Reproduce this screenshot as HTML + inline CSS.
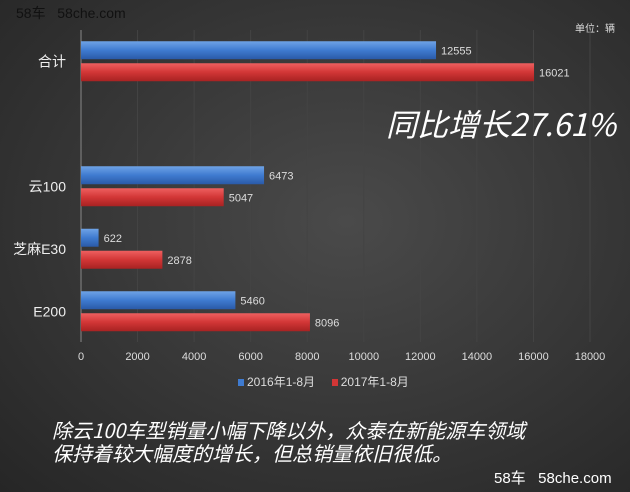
<!DOCTYPE html>
<html><head><meta charset="utf-8"><style>
body{margin:0;width:630px;height:492px;overflow:hidden;background:radial-gradient(ellipse at 55% 45%,#4a4a4a 0%,#363636 55%,#262626 100%);font-family:"Liberation Sans","Noto Sans CJK SC",sans-serif;color:#fff;position:relative}
.t{position:absolute;white-space:nowrap}
</style></head><body>
<div class="t" style="left:16px;top:3px;font-size:14px;color:#111">58车&nbsp;&nbsp; 58che.com</div>
<div class="t" style="left:575px;top:20px;font-size:10px;color:#ddd">单位：辆</div>
<svg id="c" width="630" height="492" style="position:absolute;left:0;top:0">
<defs>
<linearGradient id="gb" x1="0" y1="0" x2="0" y2="1"><stop offset="0" stop-color="#6fa3e6"/><stop offset="0.5" stop-color="#3f7bd0"/><stop offset="1" stop-color="#2a5aa8"/></linearGradient>
<linearGradient id="gr" x1="0" y1="0" x2="0" y2="1"><stop offset="0" stop-color="#ee6060"/><stop offset="0.5" stop-color="#d23636"/><stop offset="1" stop-color="#a82222"/></linearGradient>
</defs>
</svg>
<div class="t" style="left:386px;top:100px;font-size:31px;font-style:italic;font-family:'Noto Sans CJK SC',sans-serif">同比增长27.61%</div>
<div class="t" style="left:238px;top:373px;font-size:12px;color:#ddd"><span style="display:inline-block;width:6px;height:7px;background:#3f7bd0;margin-right:3px"></span>2016年1-8月&nbsp;&nbsp;&nbsp;&nbsp;&nbsp;<span style="display:inline-block;width:6px;height:7px;background:#d23636;margin-right:3px"></span>2017年1-8月</div>
<div class="t" style="left:52px;top:418px;font-size:20px;line-height:23px;font-style:italic;font-family:'Noto Sans CJK SC',sans-serif">除云100车型销量小幅下降以外，众泰在新能源车领域<br>保持着较大幅度的增长，但总销量依旧很低。</div>
<div class="t" style="left:494px;top:467px;font-size:15px;color:#fff">58车&nbsp;&nbsp; 58che.com</div>
<script>
const categories=["合计","","云100","芝麻E30","E200"];
const s2016=[12555,null,6473,622,5460];
const s2017=[16021,null,5047,2878,8096];
const ticks=[0,2000,4000,6000,8000,10000,12000,14000,16000,18000];
const svg=document.getElementById('c');const NS='http://www.w3.org/2000/svg';
const x0=81,x1=590,maxV=18000,yTop=30,band=62.5;
const X=v=>x0+v/maxV*(x1-x0);
function el(t,a){const e=document.createElementNS(NS,t);for(const k in a)e.setAttribute(k,a[k]);svg.appendChild(e);return e;}
ticks.forEach(v=>{
 const g=el('line',{x1:X(v),x2:X(v),y1:yTop,y2:342,stroke:v?'#444':'#888','stroke-width':1});
 
 
 const t=el('text',{x:X(v),y:360,'text-anchor':'middle','font-size':11,fill:'#ddd'});t.textContent=v;
 
 
});
categories.forEach((c,i)=>{
 const cy=yTop+band*(i+0.5);
 if(c){const t=el('text',{x:66,y:cy+5,'text-anchor':'end','font-size':14,fill:'#eee'});t.textContent=c;
 
 }
 [[s2016,'gb',-20],[s2017,'gr',2]].forEach(([s,f,off])=>{
  const v=s[i];if(v==null)return;
  const r=el('rect',{x:x0,y:cy+off,width:X(v)-x0,height:18,fill:'url(#'+f+')'});
  
  
  const t=el('text',{x:X(v)+5,y:cy+off+13,'font-size':11,fill:'#ddd'});t.textContent=v;
  
  
 });
});
</script>
</body></html>
